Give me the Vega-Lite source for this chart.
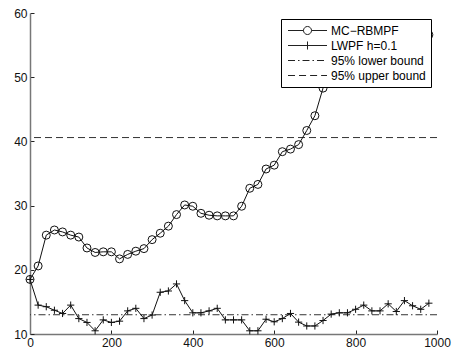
{
  "$schema": "https://vega.github.io/schema/vega-lite/v6.json",
  "width": 407,
  "height": 321,
  "autosize": {"type": "none"},
  "padding": {"left": 30, "top": 13, "right": 15, "bottom": 22},
  "background": "white",
  "config": {
    "view": {"stroke": null},
    "font": "Liberation Sans",
    "axis": {
      "grid": false,
      "domainColor": "#777777",
      "domainWidth": 1.5,
      "tickColor": "#222222",
      "tickSize": -4,
      "tickWidth": 1,
      "labelFont": "Liberation Sans",
      "labelFontSize": 12,
      "labelColor": "#111111",
      "labelPadding": 7,
      "labelOverlap": false,
      "labelFlush": false,
      "title": null
    }
  },
  "resolve": {"scale": {"shape": "independent"}, "legend": {"shape": "independent"}},
  "layer": [
    {
      "data": {"values": [
        {"bound": "95% lower bound", "value": 13.0},
        {"bound": "95% upper bound", "value": 40.6}
      ]},
      "mark": {"type": "rule", "color": "#333333", "strokeWidth": 1},
      "encoding": {
        "y": {"field": "value", "type": "quantitative", "scale": {"domain": [10, 60], "nice": false, "zero": false}},
        "strokeDash": {"field": "bound", "type": "nominal", "scale": {"domain": ["95% lower bound", "95% upper bound"], "range": [[7, 3, 1.5, 3], [7, 4]]}, "legend": null}
      }
    },
    {
      "data": {"name": "series"},
      "mark": {"type": "line", "color": "#111111", "strokeWidth": 1},
      "encoding": {
        "x": {"field": "x", "type": "quantitative", "scale": {"domain": [0, 1000], "nice": false}, "axis": {"values": [0, 200, 400, 600, 800, 1000], "format": "d"}},
        "y": {"field": "y", "type": "quantitative", "scale": {"domain": [10, 60], "nice": false, "zero": false}, "axis": {"values": [10, 15, 20, 25, 30, 35, 40, 45, 50, 55, 60], "format": "d"}},
        "detail": {"field": "series", "type": "nominal"}
      }
    },
    {
      "data": {"name": "series"},
      "mark": {"type": "point", "filled": false, "color": "#111111", "strokeWidth": 1, "size": 64, "opacity": 1},
      "encoding": {
        "x": {"field": "x", "type": "quantitative"},
        "y": {"field": "y", "type": "quantitative"},
        "shape": {
          "field": "series",
          "type": "nominal",
          "scale": {
            "domain": ["MC−RBMPF", "LWPF h=0.1"],
            "range": ["circle", "M-0.9,0H0.9M0,-0.9V0.9"]
          },
          "legend": null
        }
      }
    },
    {
      "data": {"name": "series"},
      "mark": {"type": "point", "filled": false, "color": "#222222", "strokeWidth": 1, "size": 144, "opacity": 0},
      "encoding": {
        "x": {"field": "x", "type": "quantitative"},
        "y": {"field": "y", "type": "quantitative"},
        "shape": {
          "field": "series",
          "type": "nominal",
          "scale": {
            "domain": ["MC−RBMPF", "LWPF h=0.1", "95% lower bound", "95% upper bound"],
            "range": [
              "M-3.25,0H-0.67M0.67,0H3.25M-0.67,0A0.67,0.67 0 1,0 0.67,0A0.67,0.67 0 1,0 -0.67,0",
              "M-3.25,0H3.25M0,-0.67V0.67",
              "M-3.25,0H-2.08M-1.58,0H-1.33M-0.83,0H0.33M0.83,0H1.08M1.58,0H2.75",
              "M-3.25,0H-2.08M-1.41,0H-0.24M0.43,0H1.6M2.27,0H3.25"
            ]
          },
          "legend": {
            "title": null,
            "orient": "top-right",
            "offset": 6,
            "padding": 5,
            "fillColor": "white",
            "strokeColor": "black",
            "cornerRadius": 0,
            "symbolSize": 144,
            "symbolOpacity": 1,
            "symbolStrokeColor": "#222222",
            "symbolFillColor": "transparent",
            "symbolStrokeWidth": 1,
            "symbolOffset": 15,
            "labelOffset": 17,
            "rowPadding": 2,
            "labelFont": "Liberation Sans",
            "labelFontSize": 12,
            "labelColor": "black",
            "labelBaseline": "middle"
          }
        }
      }
    }
  ],
  "datasets": {
    "series": [
      {"series": "MC−RBMPF", "x": 0, "y": 18.5},
      {"series": "MC−RBMPF", "x": 20, "y": 20.6},
      {"series": "MC−RBMPF", "x": 40, "y": 25.4},
      {"series": "MC−RBMPF", "x": 60, "y": 26.2},
      {"series": "MC−RBMPF", "x": 80, "y": 25.9},
      {"series": "MC−RBMPF", "x": 100, "y": 25.4},
      {"series": "MC−RBMPF", "x": 120, "y": 25.1},
      {"series": "MC−RBMPF", "x": 140, "y": 23.4},
      {"series": "MC−RBMPF", "x": 160, "y": 22.7},
      {"series": "MC−RBMPF", "x": 180, "y": 22.8},
      {"series": "MC−RBMPF", "x": 200, "y": 22.8},
      {"series": "MC−RBMPF", "x": 220, "y": 21.7},
      {"series": "MC−RBMPF", "x": 240, "y": 22.4},
      {"series": "MC−RBMPF", "x": 260, "y": 22.9},
      {"series": "MC−RBMPF", "x": 280, "y": 23.3},
      {"series": "MC−RBMPF", "x": 300, "y": 24.7},
      {"series": "MC−RBMPF", "x": 320, "y": 25.7},
      {"series": "MC−RBMPF", "x": 340, "y": 26.8},
      {"series": "MC−RBMPF", "x": 360, "y": 28.6},
      {"series": "MC−RBMPF", "x": 380, "y": 30.1},
      {"series": "MC−RBMPF", "x": 400, "y": 29.9},
      {"series": "MC−RBMPF", "x": 420, "y": 28.8},
      {"series": "MC−RBMPF", "x": 440, "y": 28.5},
      {"series": "MC−RBMPF", "x": 460, "y": 28.4},
      {"series": "MC−RBMPF", "x": 480, "y": 28.4},
      {"series": "MC−RBMPF", "x": 500, "y": 28.4},
      {"series": "MC−RBMPF", "x": 520, "y": 29.9},
      {"series": "MC−RBMPF", "x": 540, "y": 32.7},
      {"series": "MC−RBMPF", "x": 560, "y": 33.3},
      {"series": "MC−RBMPF", "x": 580, "y": 35.7},
      {"series": "MC−RBMPF", "x": 600, "y": 36.3},
      {"series": "MC−RBMPF", "x": 620, "y": 38.4},
      {"series": "MC−RBMPF", "x": 640, "y": 38.8},
      {"series": "MC−RBMPF", "x": 660, "y": 39.5},
      {"series": "MC−RBMPF", "x": 680, "y": 41.7},
      {"series": "MC−RBMPF", "x": 700, "y": 44.0},
      {"series": "MC−RBMPF", "x": 720, "y": 48.3},
      {"series": "MC−RBMPF", "x": 740, "y": 50.0},
      {"series": "MC−RBMPF", "x": 760, "y": 49.7},
      {"series": "MC−RBMPF", "x": 780, "y": 50.3},
      {"series": "MC−RBMPF", "x": 800, "y": 50.9},
      {"series": "MC−RBMPF", "x": 820, "y": 51.6},
      {"series": "MC−RBMPF", "x": 840, "y": 52.3},
      {"series": "MC−RBMPF", "x": 860, "y": 53.0},
      {"series": "MC−RBMPF", "x": 880, "y": 53.8},
      {"series": "MC−RBMPF", "x": 900, "y": 54.5},
      {"series": "MC−RBMPF", "x": 920, "y": 55.2},
      {"series": "MC−RBMPF", "x": 940, "y": 55.8},
      {"series": "MC−RBMPF", "x": 960, "y": 56.2},
      {"series": "MC−RBMPF", "x": 980, "y": 56.6},
      {"series": "LWPF h=0.1", "x": 0, "y": 18.5},
      {"series": "LWPF h=0.1", "x": 20, "y": 14.5},
      {"series": "LWPF h=0.1", "x": 40, "y": 14.25},
      {"series": "LWPF h=0.1", "x": 60, "y": 13.7},
      {"series": "LWPF h=0.1", "x": 80, "y": 13.2},
      {"series": "LWPF h=0.1", "x": 100, "y": 14.5},
      {"series": "LWPF h=0.1", "x": 120, "y": 12.4},
      {"series": "LWPF h=0.1", "x": 140, "y": 11.8},
      {"series": "LWPF h=0.1", "x": 160, "y": 10.5},
      {"series": "LWPF h=0.1", "x": 180, "y": 12.2},
      {"series": "LWPF h=0.1", "x": 200, "y": 11.8},
      {"series": "LWPF h=0.1", "x": 220, "y": 12.0},
      {"series": "LWPF h=0.1", "x": 240, "y": 13.6},
      {"series": "LWPF h=0.1", "x": 260, "y": 14.0},
      {"series": "LWPF h=0.1", "x": 280, "y": 12.4},
      {"series": "LWPF h=0.1", "x": 300, "y": 12.95},
      {"series": "LWPF h=0.1", "x": 320, "y": 16.5},
      {"series": "LWPF h=0.1", "x": 340, "y": 16.7},
      {"series": "LWPF h=0.1", "x": 360, "y": 17.8},
      {"series": "LWPF h=0.1", "x": 380, "y": 15.2},
      {"series": "LWPF h=0.1", "x": 400, "y": 13.3},
      {"series": "LWPF h=0.1", "x": 420, "y": 13.3},
      {"series": "LWPF h=0.1", "x": 440, "y": 13.6},
      {"series": "LWPF h=0.1", "x": 460, "y": 14.0},
      {"series": "LWPF h=0.1", "x": 480, "y": 12.2},
      {"series": "LWPF h=0.1", "x": 500, "y": 12.2},
      {"series": "LWPF h=0.1", "x": 520, "y": 12.2},
      {"series": "LWPF h=0.1", "x": 540, "y": 10.5},
      {"series": "LWPF h=0.1", "x": 560, "y": 10.5},
      {"series": "LWPF h=0.1", "x": 580, "y": 12.3},
      {"series": "LWPF h=0.1", "x": 600, "y": 11.9},
      {"series": "LWPF h=0.1", "x": 620, "y": 12.4},
      {"series": "LWPF h=0.1", "x": 640, "y": 13.2},
      {"series": "LWPF h=0.1", "x": 660, "y": 11.85},
      {"series": "LWPF h=0.1", "x": 680, "y": 11.25},
      {"series": "LWPF h=0.1", "x": 700, "y": 11.25},
      {"series": "LWPF h=0.1", "x": 720, "y": 12.1},
      {"series": "LWPF h=0.1", "x": 740, "y": 13.1},
      {"series": "LWPF h=0.1", "x": 760, "y": 13.3},
      {"series": "LWPF h=0.1", "x": 780, "y": 13.3},
      {"series": "LWPF h=0.1", "x": 800, "y": 13.85},
      {"series": "LWPF h=0.1", "x": 820, "y": 14.5},
      {"series": "LWPF h=0.1", "x": 840, "y": 13.6},
      {"series": "LWPF h=0.1", "x": 860, "y": 13.6},
      {"series": "LWPF h=0.1", "x": 880, "y": 14.7},
      {"series": "LWPF h=0.1", "x": 900, "y": 13.5},
      {"series": "LWPF h=0.1", "x": 920, "y": 15.2},
      {"series": "LWPF h=0.1", "x": 940, "y": 14.4},
      {"series": "LWPF h=0.1", "x": 960, "y": 13.85},
      {"series": "LWPF h=0.1", "x": 980, "y": 14.8}
    ]
  }
}
